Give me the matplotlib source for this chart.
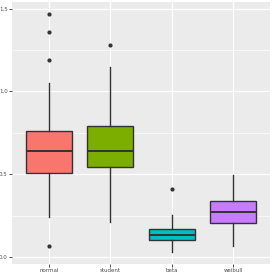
import matplotlib
matplotlib.use('Agg')
import matplotlib.pyplot as plt

# data
groups = ['normal', 'student', 'beta', 'weibull']
colors = ['#F8766D', '#7CAE00', '#00BFC4', '#C77CFF']
q1 = [0.51, 0.545, 0.10, 0.204]
med = [0.64, 0.64, 0.135, 0.27]
q3 = [0.76, 0.79, 0.167, 0.337]
whislo = [0.24, 0.213, 0.032, 0.068]
whishi = [1.05, 1.15, 0.254, 0.495]
outliers = [[1.47, 1.36, 1.19, 0.066], [1.28], [0.41], []]

fig = plt.figure(figsize=(2.73, 2.73), dpi=100)
ax = fig.add_axes([12/273, 9/273, 258/273, 262/273])
ax.set_facecolor('#EBEBEB')

stats = []
for i in range(len(groups)):
    stats.append(dict(label=groups[i], q1=q1[i], med=med[i], q3=q3[i],
                      whislo=whislo[i], whishi=whishi[i], fliers=outliers[i]))

pos = list(range(1, len(groups) + 1))
bp = ax.bxp(stats, positions=pos, widths=0.75, patch_artist=True, showcaps=False,
            boxprops=dict(edgecolor='#333333', linewidth=1.0),
            medianprops=dict(color='#333333', linewidth=1.4),
            whiskerprops=dict(color='#333333', linewidth=1.0),
            flierprops=dict(marker='o', markerfacecolor='#333333', markeredgecolor='#333333',
                            markersize=2, linestyle='none'),
            zorder=3)
for patch, c in zip(bp['boxes'], colors):
    patch.set_facecolor(c)

ax.set_xlim(0.4, 4.6)
ax.set_ylim(-0.042, 1.54)
ax.set_yticks([0.0, 0.5, 1.0, 1.5])
ax.set_yticklabels(['0.0', '0.5', '1.0', '1.5'])
ax.set_yticks([0.25, 0.75, 1.25], minor=True)
ax.set_xticks(pos)
ax.set_xticklabels(groups)
ax.grid(which='major', color='white', linewidth=0.9, zorder=0)
ax.grid(which='minor', axis='y', color='white', linewidth=0.45, zorder=0)
ax.set_axisbelow(True)
for s in ax.spines.values():
    s.set_visible(False)
ax.tick_params(which='major', length=2, width=0.6, color='#333333', labelsize=4,
               labelcolor='#4D4D4D', pad=1)
ax.tick_params(which='minor', length=0)

fig.savefig('out.png', dpi=100)
